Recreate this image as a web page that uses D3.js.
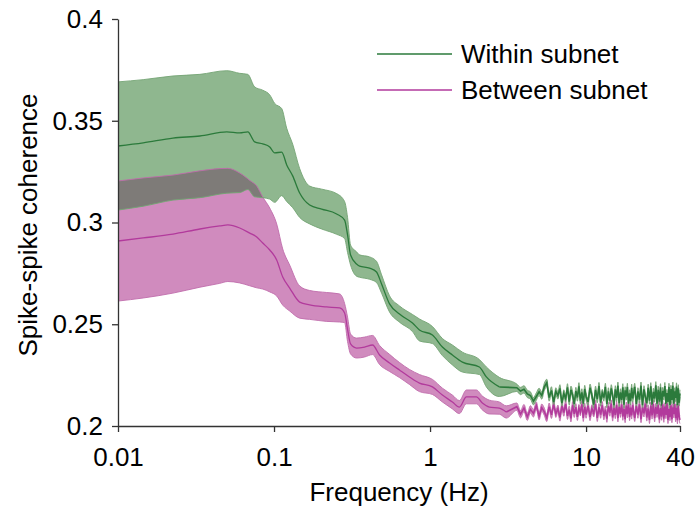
<!DOCTYPE html>
<html>
<head>
<meta charset="utf-8">
<script src="https://cdn.jsdelivr.net/npm/d3@7"></script>
<style>
  html, body { margin: 0; padding: 0; background: #fff; }
  svg { display: block; font-family: "Liberation Sans", Arial, Helvetica, sans-serif; }
</style>
</head>
<body>
<svg id="chart" width="699" height="517"></svg>
<script>
// ---------------- DATA ----------------
const seriesNames = ["Within subnet", "Between subnet"];
const xTickValues = [0.01, 0.1, 1, 10, 40];
const xTickLabels = ["0.01", "0.1", "1", "10", "40"];
const yTickValues = [0.2, 0.25, 0.3, 0.35, 0.4];
const yTickLabels = ["0.2", "0.25", "0.3", "0.35", "0.4"];

// smooth (low-frequency) part
const withinFreq = [0.01, 0.0145, 0.0225, 0.0335, 0.0498, 0.0603, 0.0679, 0.0752, 0.0847, 0.0939,
  0.101, 0.112, 0.1206, 0.1317, 0.146, 0.1692, 0.202, 0.252, 0.2834, 0.296,
  0.3095, 0.338, 0.3534, 0.4096, 0.454, 0.489, 0.55, 0.637, 0.772, 0.855,
  1.036, 1.2, 1.391, 1.612, 2.07, 2.296, 2.78];
const withinMean = [0.3376, 0.3391, 0.3415, 0.3425, 0.3445, 0.344, 0.3445, 0.3396, 0.3386, 0.3371,
  0.3342, 0.3346, 0.3283, 0.3229, 0.3145, 0.3086, 0.3066, 0.3042, 0.3012, 0.2939,
  0.284, 0.2796, 0.2786, 0.2776, 0.2757, 0.2698, 0.26, 0.255, 0.2506, 0.2472,
  0.2447, 0.2388, 0.2349, 0.2314, 0.229, 0.2241, 0.2192];
const withinErr = [0.0315, 0.0311, 0.0305, 0.0303, 0.0301, 0.0293, 0.0283, 0.027, 0.0264, 0.0256,
  0.0243, 0.0214, 0.018, 0.0156, 0.012, 0.0093, 0.0098, 0.01, 0.0091, 0.0086,
  0.0049, 0.006, 0.0055, 0.0055, 0.0052, 0.0045, 0.004, 0.004, 0.0042, 0.0054,
  0.0042, 0.0042, 0.0049, 0.0049, 0.0037, 0.0049, 0.0047];

const betweenFreq = [0.01, 0.0145, 0.0225, 0.0335, 0.0449, 0.0506, 0.0603, 0.0699, 0.0775, 0.0847,
  0.0939, 0.104, 0.1137, 0.126, 0.146, 0.1692, 0.2174, 0.2633, 0.2834, 0.296,
  0.3095, 0.338, 0.3804, 0.428, 0.4746, 0.55, 0.637, 0.738, 0.855, 1.036,
  1.2, 1.391, 1.542, 1.71, 1.982, 2.164, 2.399, 2.78, 3.08];
const betweenMean = [0.2909, 0.2924, 0.2943, 0.2968, 0.2983, 0.2988, 0.2973, 0.2948, 0.2929, 0.2899,
  0.2865, 0.2816, 0.2732, 0.2678, 0.2609, 0.2595, 0.2585, 0.258, 0.2555, 0.2475,
  0.2403, 0.2383, 0.2388, 0.2398, 0.2349, 0.231, 0.2275, 0.2241, 0.2211, 0.2192,
  0.2152, 0.2118, 0.2093, 0.2143, 0.2143, 0.2113, 0.2093, 0.2088, 0.2069];
const betweenErr = [0.0295, 0.0295, 0.029, 0.0286, 0.0282, 0.0278, 0.027, 0.0259, 0.025, 0.0226,
  0.0206, 0.0177, 0.0138, 0.0113, 0.0079, 0.0071, 0.0071, 0.0069, 0.0047, 0.006,
  0.0049, 0.0049, 0.0049, 0.0047, 0.0047, 0.0042, 0.0037, 0.0037, 0.0042, 0.0037,
  0.0034, 0.0034, 0.0032, 0.0034, 0.0034, 0.0034, 0.0034, 0.003, 0.003];

// noisy (high-frequency) part
const noiseFreq = [3.6, 3.8, 4.0, 4.2, 4.4, 4.6, 4.8, 5.0, 5.2, 5.4, 5.6, 5.8, 6.0, 6.2, 6.4, 6.6, 6.8,
  7.0, 7.2, 7.4, 7.6, 7.8, 8.0, 8.2, 8.4, 8.6, 8.8, 9.0, 9.2, 9.4, 9.6, 9.8, 10.0,
  10.3, 10.6, 10.9, 11.2, 11.5, 11.8, 12.1, 12.4, 12.7, 13.0, 13.3, 13.6, 13.9, 14.2, 14.5, 14.8,
  15.1, 15.4, 15.7, 16.0, 16.3, 16.6, 16.9, 17.2, 17.5, 17.8, 18.1, 18.4, 18.7, 19.0, 19.3, 19.6, 19.9,
  20.5, 21, 21.5, 22, 22.5, 23, 23.5, 24, 24.5, 25, 25.5, 26, 26.5, 27, 27.5, 28, 28.5, 29, 29.5, 30,
  30.5, 31, 31.5, 32, 32.5, 33, 33.5, 34, 34.5, 35, 35.5, 36, 36.5, 37, 37.5, 38, 38.5, 39, 39.5, 40];
const withinNoise = [0.2188, 0.2172, 0.2180, 0.2158, 0.2150, 0.2122, 0.2145, 0.2168, 0.2150, 0.2192,
  0.2212, 0.2140, 0.2175, 0.2118, 0.2170, 0.2150, 0.2185, 0.2112, 0.2160, 0.2135,
  0.2190, 0.2120, 0.2178, 0.2152, 0.2108, 0.2172, 0.2140, 0.2195, 0.2125, 0.2165,
  0.2110, 0.2182, 0.2145,
  0.2118, 0.2188, 0.2150, 0.2105, 0.2178, 0.2132, 0.2196, 0.2115, 0.2162, 0.2140,
  0.2192, 0.2108, 0.2170, 0.2125, 0.2185, 0.2150, 0.2102, 0.2180, 0.2138, 0.2198,
  0.2112, 0.2165, 0.2128, 0.2190, 0.2105, 0.2175, 0.2145, 0.2192, 0.2110, 0.2160,
  0.2122, 0.2188, 0.2135,
  0.2192, 0.2108, 0.2170, 0.2130, 0.2198, 0.2102, 0.2180, 0.2142, 0.2112, 0.2188,
  0.2125, 0.2195, 0.2105, 0.2168, 0.2135, 0.2200, 0.2110, 0.2178, 0.2120, 0.2190,
  0.2100, 0.2172, 0.2145, 0.2196, 0.2108, 0.2162, 0.2118, 0.2192, 0.2104, 0.2182,
  0.2128, 0.2198, 0.2110, 0.2170, 0.2138, 0.2194, 0.2102, 0.2185, 0.2115, 0.2160];
const betweenNoise = [0.2095, 0.2058, 0.2088, 0.2045, 0.2082, 0.2062, 0.2100, 0.2048, 0.2090, 0.2070,
  0.2040, 0.2095, 0.2055, 0.2105, 0.2060, 0.2085, 0.2042, 0.2098, 0.2066, 0.2108,
  0.2050, 0.2080, 0.2038, 0.2102, 0.2060, 0.2092, 0.2045, 0.2088, 0.2068, 0.2106,
  0.2040, 0.2094, 0.2056,
  0.2100, 0.2044, 0.2086, 0.2062, 0.2108, 0.2040, 0.2092, 0.2056, 0.2102, 0.2048,
  0.2080, 0.2036, 0.2098, 0.2066, 0.2110, 0.2042, 0.2088, 0.2054, 0.2104, 0.2038,
  0.2094, 0.2060, 0.2106, 0.2046, 0.2084, 0.2034, 0.2100, 0.2058, 0.2108, 0.2044,
  0.2090, 0.2052, 0.2102,
  0.2040, 0.2098, 0.2056, 0.2106, 0.2034, 0.2090, 0.2062, 0.2110, 0.2042, 0.2086,
  0.2030, 0.2100, 0.2052, 0.2108, 0.2038, 0.2094, 0.2060, 0.2104, 0.2032, 0.2088,
  0.2046, 0.2106, 0.2036, 0.2096, 0.2054, 0.2110, 0.2030, 0.2084, 0.2044, 0.2102,
  0.2034, 0.2092, 0.2058, 0.2108, 0.2038, 0.2090, 0.2028, 0.2100, 0.2048, 0.2030];
const withinNoiseErr = 0.0018;
const betweenNoiseErr = 0.0018;

// ---------------- BUILD ----------------
function build(freq, mean, err, nMean, nErr) {
  const rows = freq.map((f, i) => ({ f, m: mean[i], e: err[i], n: false }));
  noiseFreq.forEach((f, i) => rows.push({ f, m: nMean[i], e: nErr, n: true }));
  return rows;
}
const within = build(withinFreq, withinMean, withinErr, withinNoise, withinNoiseErr);
const between = build(betweenFreq, betweenMean, betweenErr, betweenNoise, betweenNoiseErr);

const svg = d3.select("#chart");
const margin = { left: 118, right: 19, top: 19, bottom: 91 };
const W = 699, H = 517;

const x = d3.scaleLog().domain([0.01, 40]).range([margin.left, W - margin.right]);
const y = d3.scaleLinear().domain([0.2, 0.4]).range([H - margin.bottom, margin.top]);

const C = {
  gLine: "#2b7a3b", gBand: "#8fb78f", gEdge: "#74a474",
  mLine: "#b23a9c", mBand: "#d08bbe", mEdge: "#c06cab",
  overlap: "#7e7b78"
};

const area = d3.area().x(d => x(d.f)).y0(d => y(d.m - d.e)).y1(d => y(d.m + d.e)).curve(d3.curveMonotoneX);
const smoothLine = d3.line().x(d => x(d.f)).y(d => y(d.m)).curve(d3.curveMonotoneX);
const noisyLine = d3.line().x(d => x(d.f)).y(d => y(d.m)).curve(d3.curveLinear);
const upper = d3.line().x(d => x(d.f)).y(d => y(d.m + d.e)).curve(d3.curveMonotoneX);
const lower = d3.line().x(d => x(d.f)).y(d => y(d.m - d.e)).curve(d3.curveMonotoneX);

const defs = svg.append("defs");
defs.append("clipPath").attr("id", "clipBetween")
  .append("path").attr("d", area(between));

const plot = svg.append("g");
plot.append("path").attr("d", area(between)).attr("fill", C.mBand);
plot.append("path").attr("d", area(within)).attr("fill", C.gBand);
plot.append("path").attr("d", area(within)).attr("fill", C.overlap).attr("clip-path", "url(#clipBetween)");

[[between, C.mEdge], [within, C.gEdge]].forEach(([d, c]) => {
  plot.append("path").attr("d", upper(d)).attr("fill", "none").attr("stroke", c).attr("stroke-width", 0.9);
  plot.append("path").attr("d", lower(d)).attr("fill", "none").attr("stroke", c).attr("stroke-width", 0.9);
});

function drawMean(rows, color) {
  const smooth = rows.filter(d => !d.n);
  const noisy = [smooth[smooth.length - 1]].concat(rows.filter(d => d.n));
  plot.append("path").attr("d", smoothLine(smooth)).attr("fill", "none")
    .attr("stroke", color).attr("stroke-width", 1.3);
  plot.append("path").attr("d", noisyLine(noisy)).attr("fill", "none")
    .attr("stroke", color).attr("stroke-width", 1.6).attr("stroke-linejoin", "miter");
}
drawMean(within, C.gLine);
drawMean(between, C.mLine);

// axes
const axisColor = "#333";
const fontSize = 26;

const xAxis = d3.axisBottom(x).tickValues(xTickValues)
  .tickFormat((d, i) => xTickLabels[i]).tickSizeInner(6).tickSizeOuter(0).tickPadding(16);
const gx = svg.append("g").attr("transform", `translate(0,${y(0.2)})`).call(xAxis);

const yAxis = d3.axisLeft(y).tickValues(yTickValues)
  .tickFormat((d, i) => yTickLabels[i]).tickSizeInner(6).tickSizeOuter(0).tickPadding(9);
const gy = svg.append("g").attr("transform", `translate(${x(0.01)},0)`).call(yAxis);

[gx, gy].forEach(g => {
  g.select(".domain").attr("stroke", axisColor).attr("stroke-width", 1.3);
  g.selectAll(".tick line").attr("stroke", axisColor).attr("stroke-width", 1.3);
  g.selectAll(".tick text").attr("fill", "#000").attr("font-size", fontSize)
    .attr("font-family", "Liberation Sans, Arial, sans-serif");
});

svg.append("text").attr("x", (x(0.01) + x(40)) / 2).attr("y", 501)
  .attr("text-anchor", "middle").attr("font-size", fontSize).attr("fill", "#000")
  .text("Frequency (Hz)");
svg.append("text").attr("transform", `translate(37,225) rotate(-90)`)
  .attr("text-anchor", "middle").attr("font-size", fontSize).attr("fill", "#000")
  .text("Spike-spike coherence");

// legend
const legend = svg.append("g");
[[C.gLine, 54], [C.mLine, 90]].forEach(([c, ly], i) => {
  legend.append("line").attr("x1", 377).attr("x2", 452).attr("y1", ly).attr("y2", ly)
    .attr("stroke", c).attr("stroke-width", 1.5);
  legend.append("text").attr("x", 461).attr("y", ly).attr("dy", "0.35em")
    .attr("font-size", fontSize).attr("fill", "#000").text(seriesNames[i]);
});
</script>
</body>
</html>
